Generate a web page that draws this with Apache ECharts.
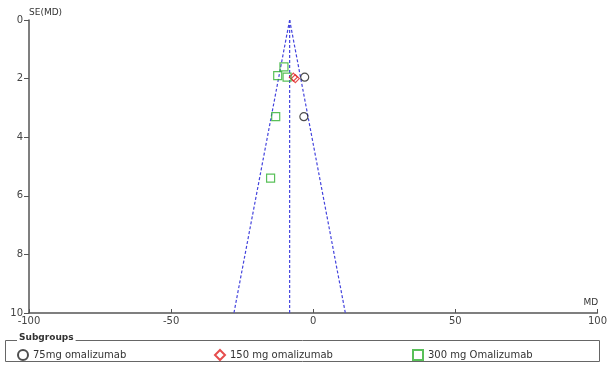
<!DOCTYPE html>
<html><head><meta charset="utf-8">
<script src="https://cdn.jsdelivr.net/npm/echarts@6/dist/echarts.min.js"></script>
<style>html,body{margin:0;padding:0;background:#fff}#c{width:610px;height:365px}</style>
</head><body><div id="c"></div>
<script>
var xTicks = [-100, -50, 0, 50, 100];
var yTicks = [0, 2, 4, 6, 8, 10];
var seriesNames = ['75mg omalizumab', '150 mg omalizumab', '300 mg Omalizumab'];
var pts75 = [[-3.0, 1.95], [-3.3, 3.3]];
var pts150 = [[-7.0, 1.95], [-6.3, 2.0]];
var pts300 = [[-12.5, 1.9], [-10.3, 1.6], [-9.2, 1.95], [-13.2, 3.3], [-15.0, 5.4]];
var pooledLine = [[-8.3, 0], [-8.3, 10]];
var funnelLeft = [[-8.3, 0], [-27.9, 10]];
var funnelRight = [[-8.3, 0], [11.3, 10]];

var chart = echarts.init(document.getElementById('c'));
var font = 'DejaVu Sans';
function dash(d){return {type:'line', data:d, symbol:'none', silent:true, legendHoverLink:false,
  lineStyle:{color:'#4444dd', width:1.2, type:[3,2]}, z:1};}
function pts(name, d, sym, col){return {type:'scatter', name:name, data:d, symbol:sym, symbolSize:8,
  itemStyle:{color:'rgba(255,255,255,0)', borderColor:col, borderWidth:1.2}, z:3};}
chart.setOption({
  animation:false,
  textStyle:{fontFamily:font},
  grid:{left:29, right:12, top:20, bottom:52},
  xAxis:{type:'value', position:'bottom', min:-100, max:100, interval:50, name:'MD', nameLocation:'end', nameGap:-14,
    nameTextStyle:{fontSize:9, color:'#333', verticalAlign:'bottom', padding:[0,0,6,0]},
    axisLine:{onZero:false, lineStyle:{color:'#555', width:1.5}}, axisTick:{inside:true, length:4, lineStyle:{color:'#555'}},
    axisLabel:{fontSize:10, color:'#444', margin:3}, splitLine:{show:false}},
  yAxis:{type:'value', position:'left', inverse:true, min:0, max:10, interval:2, name:'SE(MD)', nameLocation:'start', nameGap:3,
    nameTextStyle:{fontSize:9, color:'#333', align:'left'},
    axisLine:{onZero:false, lineStyle:{color:'#555', width:1.5}}, axisTick:{length:5, lineStyle:{color:'#555'}},
    axisLabel:{fontSize:10, color:'#444', margin:6}, splitLine:{show:false}},
  legend:[
    {data:[seriesNames[0]], left:12, top:344, itemWidth:10, itemHeight:10, itemGap:5, textStyle:{fontSize:10, color:'#333'}},
    {data:[seriesNames[1]], left:209, top:344, itemWidth:10, itemHeight:10, textStyle:{fontSize:10, color:'#333'}},
    {data:[seriesNames[2]], left:407, top:344, itemWidth:10, itemHeight:10, textStyle:{fontSize:10, color:'#333'}}
  ],
  graphic:[
    {type:'rect', shape:{x:5.5, y:340.5, width:594, height:21}, style:{fill:'none', stroke:'#666', lineWidth:1}, z:0},
    {type:'text', left:17, top:333, style:{text:'Subgroups', font:'bold 9px DejaVu Sans', fill:'#333', backgroundColor:'#fff', padding:[0,2]}, z:5}
  ],
  series:[
    dash(pooledLine), dash(funnelLeft), dash(funnelRight),
    pts(seriesNames[0], pts75, 'circle', '#222'),
    pts(seriesNames[1], pts150, 'diamond', '#e02020'),
    pts(seriesNames[2], pts300, 'rect', '#30b030')
  ]
});
</script></body></html>
